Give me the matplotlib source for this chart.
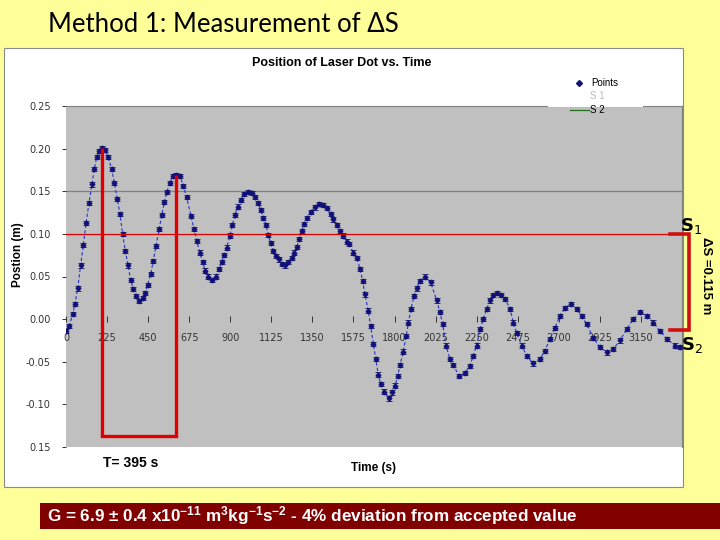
import matplotlib
matplotlib.use("Agg")
import matplotlib.pyplot as plt
from matplotlib.patches import Rectangle
from matplotlib.lines import Line2D

# laser dot position (time in s, position in m)
time_s = [
    0, 18, 37, 49, 64, 80, 95, 110, 126, 142, 155, 168, 183, 199, 215, 232,
    250, 265, 281, 296, 310, 325, 340, 354, 369, 385, 401, 420, 435, 447, 464,
    478, 493, 511, 524, 539, 552, 570, 585, 603, 625, 643, 661, 685, 701, 716,
    734, 749, 762, 776, 798, 820, 839, 853, 867, 880, 899, 911, 926, 940, 957,
    977, 999, 1017, 1036, 1054, 1067, 1081, 1096, 1108, 1121, 1136, 1151, 1165,
    1182, 1200, 1218, 1237, 1251, 1264, 1279, 1291, 1306, 1322, 1341, 1364,
    1388, 1406, 1428, 1450, 1465, 1483, 1501, 1519, 1538, 1552, 1574, 1593,
    1611, 1625, 1638, 1656, 1669, 1684, 1697, 1711, 1724, 1742, 1771, 1788,
    1803, 1817, 1830, 1848, 1863, 1876, 1890, 1907, 1921, 1940, 1967, 1998,
    2031, 2049, 2064, 2082, 2104, 2122, 2155, 2186, 2213, 2231, 2250, 2268,
    2286, 2305, 2323, 2341, 2360, 2382, 2405, 2433, 2451, 2469, 2497, 2524,
    2560, 2597, 2624, 2652, 2679, 2707, 2734, 2765, 2798, 2825, 2853, 2889,
    2926, 2962, 2999, 3035, 3072, 3108, 3145, 3181, 3218, 3254, 3291, 3337, 3363,
]
position_m = [
    -0.014, -0.008, 0.006, 0.018, 0.036, 0.063, 0.087, 0.113, 0.136, 0.158,
    0.176, 0.190, 0.197, 0.201, 0.198, 0.190, 0.176, 0.160, 0.141, 0.123,
    0.100, 0.080, 0.063, 0.046, 0.035, 0.027, 0.0215, 0.025, 0.031, 0.040,
    0.053, 0.068, 0.086, 0.106, 0.122, 0.137, 0.149, 0.160, 0.168, 0.169,
    0.168, 0.156, 0.143, 0.121, 0.106, 0.092, 0.078, 0.067, 0.057, 0.050,
    0.046, 0.050, 0.059, 0.067, 0.075, 0.084, 0.098, 0.110, 0.122, 0.132,
    0.140, 0.147, 0.149, 0.148, 0.143, 0.136, 0.128, 0.119, 0.110, 0.099,
    0.089, 0.080, 0.074, 0.070, 0.065, 0.063, 0.067, 0.072, 0.078, 0.085,
    0.094, 0.103, 0.112, 0.119, 0.126, 0.131, 0.135, 0.134, 0.130, 0.123,
    0.117, 0.110, 0.103, 0.098, 0.091, 0.088, 0.078, 0.072, 0.059, 0.045,
    0.029, 0.010, -0.008, -0.029, -0.047, -0.065, -0.076, -0.085, -0.093,
    -0.086, -0.078, -0.067, -0.054, -0.038, -0.020, -0.004, 0.012, 0.027,
    0.036, 0.045, 0.050, 0.043, 0.022, 0.008, -0.006, -0.031, -0.047, -0.054,
    -0.067, -0.063, -0.055, -0.043, -0.031, -0.012, 0.000, 0.012, 0.022,
    0.028, 0.031, 0.028, 0.024, 0.012, -0.004, -0.016, -0.031, -0.043,
    -0.052, -0.047, -0.037, -0.023, -0.010, 0.004, 0.013, 0.018, 0.012,
    0.004, -0.006, -0.022, -0.033, -0.039, -0.035, -0.025, -0.012, 0.000,
    0.008, 0.004, -0.004, -0.014, -0.023, -0.031, -0.033,
]

x_ticks = list(range(0, 3151, 225))
y_ticks = [0.25, 0.20, 0.15, 0.10, 0.05, 0.00, -0.05, -0.10, -0.15]
y_tick_labels = ["0.25", "0.20", "0.15", "0.10", "0.05", "0.00", "-0.05", "-0.10", "0.15"]
grid_levels = [0.15]

# hand drawn annotations on the slide
s1_level = 0.10
s2_level = -0.013
peak_times = [199, 603]
peak_values = [0.201, 0.169]
period_box_bottom = -0.137
bracket_t = [3310, 3413]

W, H = 720, 540


def fx(px):
    return px / W


def fy(py):
    return 1 - py / H


fig = plt.figure(figsize=(7.2, 5.4), dpi=100)
fig.patch.set_facecolor("#FFFF99")

# white chart area
fig.add_artist(Rectangle((fx(4), fy(487)), (683 - 4) / W, (487 - 48) / H,
                         transform=fig.transFigure, facecolor="white",
                         edgecolor="#8A8A8A", lw=0.8, zorder=0))

ax = fig.add_axes([fx(66), fy(447), 616 / W, 341 / H])
ax.set_facecolor("#C0C0C0")
ax.set_xlim(0, 3375)
ax.set_ylim(-0.15, 0.25)

for level in grid_levels:
    ax.axhline(level, color="#808080", lw=0.9, zorder=1)

ax.plot(time_s, position_m, ls=(0, (3, 2)), color="#2233CC", lw=0.8, zorder=3)
ax.errorbar(time_s, position_m, yerr=0.0025, fmt="D", ms=2.4, color="#10107A",
            ecolor="#10105A", elinewidth=0.6, capsize=2, capthick=0.6, zorder=4)

red = "#E00000"
ax.axhline(s1_level, color=red, lw=0.9, zorder=5)
for t, v in zip(peak_times, peak_values):
    ax.plot([t, t], [v, period_box_bottom], color=red, lw=2.4, zorder=6,
            solid_capstyle="butt")
ax.plot(peak_times, [period_box_bottom, period_box_bottom], color=red, lw=2.4,
        zorder=6)

ax.plot([bracket_t[0], bracket_t[1], bracket_t[1], bracket_t[0]],
        [s1_level, s1_level, s2_level, s2_level], color="#D01010", lw=2.6,
        clip_on=False, zorder=7, solid_joinstyle="miter")

ax.spines["left"].set_visible(False)
ax.spines["bottom"].set_position(("data", 0))
ax.spines["bottom"].set_visible(False)
ax.spines["top"].set_color("#808080")
ax.spines["right"].set_color("#808080")

ax.set_xticks(x_ticks)
ax.set_xticklabels([str(v) for v in x_ticks])
ax.tick_params(axis="x", direction="inout", length=4, width=0.7, colors="#333333",
               labelsize=7, pad=8)
ax.set_yticks(y_ticks)
ax.set_yticklabels(y_tick_labels)
ax.tick_params(axis="y", direction="out", length=3, width=0.7, colors="#333333",
               labelsize=7, pad=8)

# titles and labels
fig.text(fx(48), fy(25), "Method 1: Measurement of ΔS", fontsize=18.5,
         va="center", ha="left", family=["Lato", "DejaVu Sans"], color="black")
fig.text(fx(342), fy(63), "Position of Laser Dot vs. Time", fontsize=9,
         fontweight="bold", ha="center", va="center", family="Liberation Sans")
fig.text(fx(18), fy(255), "Postion (m)", fontsize=8.5, fontweight="bold",
         rotation=90, ha="center", va="center", family="Liberation Sans")
fig.text(fx(373), fy(468), "Time (s)", fontsize=8.5, fontweight="bold",
         ha="center", va="center", family="Liberation Sans")

# legend
fig.add_artist(Rectangle((fx(548), fy(107)), 95 / W, 32 / H,
                         transform=fig.transFigure, facecolor="white",
                         edgecolor="none", zorder=2))
fig.add_artist(Line2D([fx(579)], [fy(83)], marker="D", ms=3, color="#10107A",
                      transform=fig.transFigure))
fig.text(fx(591), fy(83), "Points", fontsize=7, va="center", ha="left",
         family="Liberation Sans")
fig.text(fx(590), fy(96), "S 1", fontsize=7, va="center", ha="left",
         color="#BBBBBB", family="Liberation Sans")
fig.add_artist(Line2D([fx(570), fx(589)], [fy(110), fy(110)], color="#207020",
                      lw=0.9, transform=fig.transFigure))
fig.text(fx(590), fy(110), "S 2", fontsize=7, va="center", ha="left",
         family="Liberation Sans")

# slide annotations
fig.text(fx(680), fy(226), r"$\mathbf{S}_1$", fontsize=13, ha="left", va="center")
fig.text(fx(681), fy(345), r"$\mathbf{S}_2$", fontsize=13, ha="left", va="center")
fig.text(fx(706), fy(276), "ΔS =0.115 m", fontsize=9.5, fontweight="bold",
         rotation=-90, ha="center", va="center", family="Liberation Sans")
fig.text(fx(103), fy(463), "T= 395 s", fontsize=10, fontweight="bold",
         ha="left", va="center", family="Liberation Sans")

# result banner
fig.add_artist(Rectangle((fx(40), fy(529)), (720 - 40) / W, 26 / H,
                         transform=fig.transFigure, facecolor="#800000",
                         edgecolor="none"))
plt.rcParams["mathtext.fontset"] = "custom"
plt.rcParams["mathtext.rm"] = "Liberation Sans:bold"
plt.rcParams["mathtext.it"] = "Liberation Sans:bold"
plt.rcParams["mathtext.bf"] = "Liberation Sans:bold"
fig.text(fx(47), fy(516),
         r"G = 6.9 ± 0.4 x10$^{-11}$ m$^{3}$kg$^{-1}$s$^{-2}$ - 4% deviation from accepted value",
         fontsize=12.3, fontweight="bold", color="white", ha="left", va="center",
         family="Liberation Sans")

fig.savefig("out.png", dpi=100)
